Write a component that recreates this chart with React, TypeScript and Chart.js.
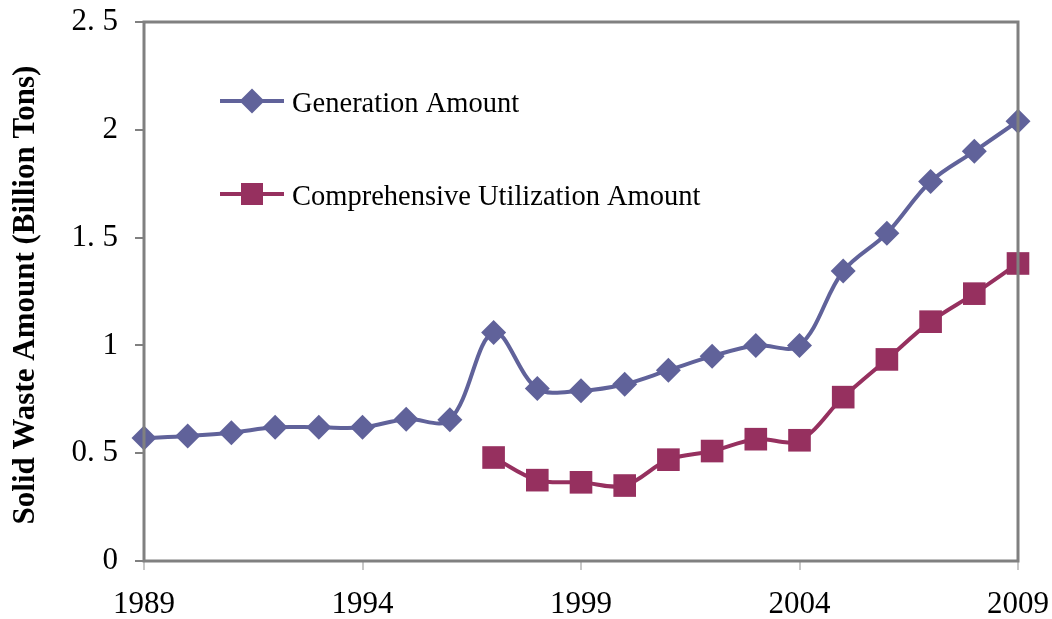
import React, { useEffect, useRef } from "react";
import { Chart, registerables } from "chart.js";

Chart.register(...registerables);

const years = [1989, 1990, 1991, 1992, 1993, 1994, 1995, 1996, 1997, 1998, 1999, 2000, 2001, 2002, 2003, 2004, 2005, 2006, 2007, 2008, 2009];
const generation = [0.57, 0.58, 0.595, 0.62, 0.62, 0.62, 0.658, 0.655, 1.06, 0.8, 0.79, 0.82, 0.885, 0.95, 1.0, 1.0, 1.345, 1.52, 1.76, 1.9, 2.04];
const utilization = [null, null, null, null, null, null, null, null, 0.48, 0.375, 0.365, 0.35, 0.47, 0.51, 0.565, 0.56, 0.76, 0.935, 1.11, 1.24, 1.38];
const seriesNames = ["Generation Amount", "Comprehensive Utilization Amount"];
const axisTitle = "Solid Waste Amount (Billion Tons)";
const xTicks = [1989, 1994, 1999, 2004, 2009];
const yTicks = [0, 0.5, 1, 1.5, 2, 2.5];

const GEN_COLOR = "#60629A";
const UTIL_COLOR = "#96305F";
const SERIF = "'Liberation Serif', 'Times New Roman', serif";

const toPoints = (vals: (number | null)[]) =>
  years.map((x, i) => ({ x, y: vals[i] })).filter((p) => p.y !== null) as { x: number; y: number }[];

const fmtY = (v: number) => {
  if (Number.isInteger(v)) return String(v);
  return v.toFixed(1).replace(".", ". ");
};

const decorPlugin = {
  id: "decor",
  afterDraw(chart: any) {
    const { ctx, chartArea } = chart;
    ctx.save();
    ctx.strokeStyle = "#808080";
    ctx.lineWidth = 3;
    ctx.strokeRect(chartArea.left, chartArea.top, chartArea.right - chartArea.left, chartArea.bottom - chartArea.top);

    ctx.fillStyle = "#000";
    ctx.font = `bold 31px ${SERIF}`;
    ctx.textAlign = "center";
    ctx.textBaseline = "middle";
    ctx.translate(26, 295);
    ctx.rotate(-Math.PI / 2);
    ctx.fillText(axisTitle, 0, 0);
    ctx.restore();

    const items = [
      { name: seriesNames[0], color: GEN_COLOR, y: 101, style: "diamond" },
      { name: seriesNames[1], color: UTIL_COLOR, y: 194, style: "square" },
    ];
    ctx.save();
    for (const it of items) {
      ctx.strokeStyle = it.color;
      ctx.lineWidth = 4;
      ctx.beginPath();
      ctx.moveTo(220, it.y);
      ctx.lineTo(284, it.y);
      ctx.stroke();
      ctx.fillStyle = it.color;
      ctx.beginPath();
      if (it.style === "diamond") {
        ctx.moveTo(252, it.y - 12.5);
        ctx.lineTo(264.5, it.y);
        ctx.lineTo(252, it.y + 12.5);
        ctx.lineTo(239.5, it.y);
        ctx.closePath();
      } else {
        ctx.rect(241, it.y - 11, 22, 22);
      }
      ctx.fill();
      ctx.fillStyle = "#000";
      ctx.font = `28.5px ${SERIF}`;
      ctx.textAlign = "left";
      ctx.textBaseline = "alphabetic";
      ctx.fillText(it.name, 292, it.y + 11);
    }
    ctx.restore();
  },
};

export default function App() {
  const ref = useRef<HTMLCanvasElement>(null);
  useEffect(() => {
    document.body.style.margin = "0";
    const chart = new Chart(ref.current!, {
      type: "line",
      data: {
        datasets: [
          {
            label: seriesNames[0],
            data: toPoints(generation),
            borderColor: GEN_COLOR,
            backgroundColor: GEN_COLOR,
            borderWidth: 4,
            pointStyle: "rectRot",
            pointRadius: 12.5,
            pointBorderWidth: 0,
            tension: 0.35,
            clip: false,
          },
          {
            label: seriesNames[1],
            data: toPoints(utilization),
            borderColor: UTIL_COLOR,
            backgroundColor: UTIL_COLOR,
            borderWidth: 4,
            pointStyle: "rect",
            pointRadius: 16,
            pointBorderWidth: 0,
            tension: 0.35,
            clip: false,
          },
        ],
      },
      options: {
        animation: false,
        responsive: false,
        layout: { padding: { top: 22, right: 34, bottom: 0, left: 0 } },
        plugins: { legend: { display: false }, tooltip: { enabled: false } },
        scales: {
          x: {
            type: "linear",
            min: xTicks[0],
            max: xTicks[xTicks.length - 1],
            afterBuildTicks: (s: any) => {
              s.ticks = xTicks.map((v) => ({ value: v }));
            },
            afterFit: (s: any) => {
              s.height = 58;
              s.paddingLeft = 0;
              s.paddingRight = 0;
            },
            ticks: {
              callback: (v: any) => String(v),
              color: "#000",
              font: { family: SERIF, size: 31 },
              padding: 16,
              maxRotation: 0,
              autoSkip: false,
            },
            grid: { drawOnChartArea: false, drawTicks: true, tickLength: 9, color: "#C8C8C8", lineWidth: 2 },
            border: { display: false },
          },
          y: {
            min: 0,
            max: 2.5,
            afterBuildTicks: (s: any) => {
              s.ticks = yTicks.map((v) => ({ value: v }));
            },
            afterFit: (s: any) => {
              s.width = 144;
              s.paddingTop = 0;
              s.paddingBottom = 0;
            },
            ticks: {
              callback: (v: any) => fmtY(Number(v)),
              color: "#000",
              font: { family: SERIF, size: 31 },
              padding: 17,
              autoSkip: false,
            },
            grid: { drawOnChartArea: false, drawTicks: true, tickLength: 9, color: "#808080", lineWidth: 2 },
            border: { display: false },
          },
        },
      },
      plugins: [decorPlugin],
    } as any);
    return () => chart.destroy();
  }, []);
  return (
    <div style={{ width: 1052, height: 619, background: "#fff" }}>
      <canvas ref={ref} width={1052} height={619} />
    </div>
  );
}
